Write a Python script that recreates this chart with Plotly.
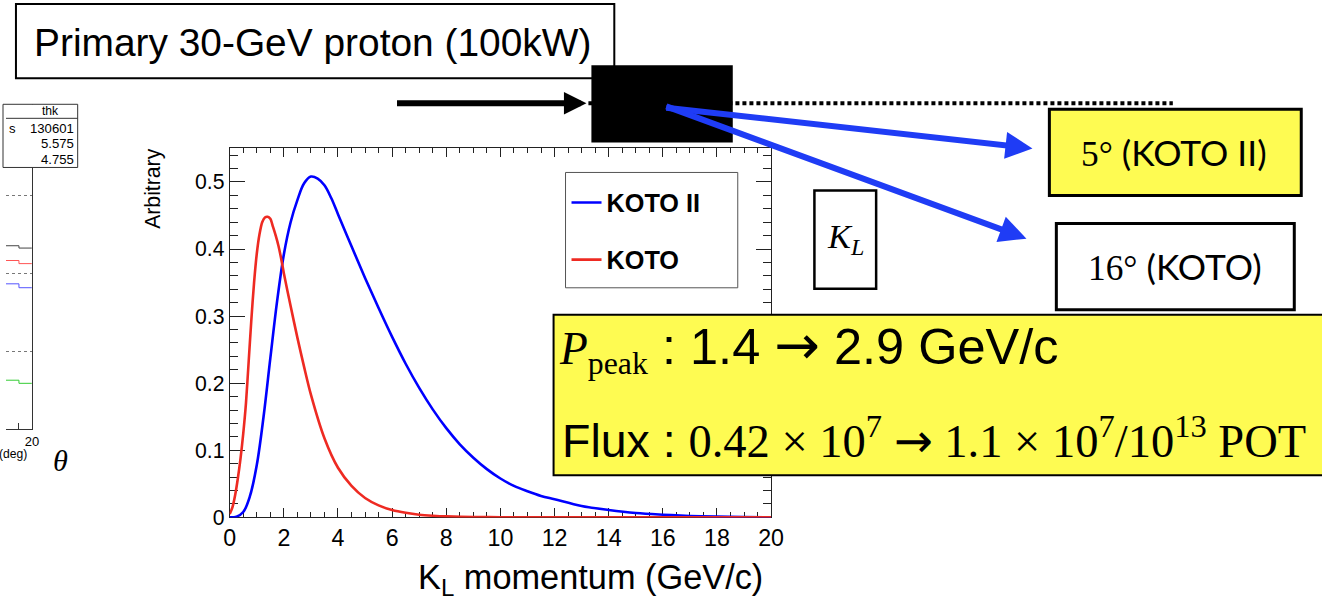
import plotly.graph_objects as go

W, H = 1322, 600
# the captured picture comes out slightly shrunk; positions are pre-compensated
SX, SY = 0.99, 0.979


def X(p):
    return p / (W * SX)


def Y(p):
    return 1 - p / (H * SY)


# ---------------- data ----------------
# KOTO II (5 deg extraction) K_L momentum spectrum
koto2_p = [0, 0.25, 0.5, 0.75, 1.0, 1.25, 1.5, 1.75, 2.0, 2.25, 2.5, 2.75, 3.0, 3.25,
           3.5, 3.75, 4.0, 4.5, 5.0, 5.5, 6.0, 6.5, 7.0, 7.5, 8.0, 8.5, 9.0, 9.5, 10.0,
           10.5, 11.0, 11.5, 12.0, 13.0, 14.0, 15.0, 16.0, 17.0, 18.0, 19.0, 20.0]
koto2_v = [0.0, 0.001, 0.008, 0.032, 0.078, 0.15, 0.237, 0.322, 0.392, 0.44, 0.473,
           0.498, 0.508, 0.505, 0.495, 0.476, 0.452, 0.404, 0.357, 0.312, 0.269, 0.229,
           0.193, 0.161, 0.133, 0.109, 0.089, 0.072, 0.058, 0.047, 0.039, 0.032, 0.027,
           0.017, 0.011, 0.0065, 0.004, 0.0022, 0.0011, 0.0005, 0.0002]

# KOTO (16 deg extraction) K_L momentum spectrum
koto_p = [0, 0.1, 0.2, 0.3, 0.4, 0.5, 0.6, 0.7, 0.8, 0.9, 1.0, 1.1, 1.2, 1.3, 1.4, 1.5,
          1.6, 1.7, 1.8, 1.9, 2.0, 2.25, 2.5, 2.75, 3.0, 3.5, 4.0, 4.5, 5.0, 5.5, 6.0,
          6.5, 7.0, 7.5, 8.0, 9.0, 10.0, 12.0, 20.0]
koto_v = [0.005, 0.015, 0.033, 0.058, 0.088, 0.125, 0.17, 0.232, 0.295, 0.35, 0.393,
          0.422, 0.44, 0.447, 0.448, 0.445, 0.433, 0.42, 0.405, 0.386, 0.364, 0.315,
          0.268, 0.224, 0.183, 0.118, 0.074, 0.047, 0.029, 0.018, 0.011, 0.0068, 0.004,
          0.0025, 0.0015, 0.0006, 0.0003, 0.0001, 0.0]

x_tick_vals = [0, 2, 4, 6, 8, 10, 12, 14, 16, 18, 20]
x_tick_text = ["0", "2", "4", "6", "8", "10", "12", "14", "16", "18", "20"]
y_tick_vals = [0, 0.1, 0.2, 0.3, 0.4, 0.5]
y_tick_text = ["0", "0.1", "0.2", "0.3", "0.4", "0.5"]

# partially visible histogram on the left (theta, deg)
theta_edges = [19.0, 19.5, 20.0]
left_black = [2.36, 2.33, 2.33]
left_red = [2.17, 2.13, 2.13]
left_blue = [1.87, 1.82, 1.82]
left_green = [0.63, 0.59, 0.59]
stat_rows = [("s", "130601"), ("", "5.575"), ("", "4.755")]

SANS = "Liberation Sans"
SERIF = "Liberation Serif"
ARROWFONT = "DejaVu Sans"
BLUE = "#0000ff"
RED = "#ee2a22"
YELLOW = "#fefb52"
ARROW_BLUE = "#1f3cf5"
FS = 1.01  # font scale

fig = go.Figure()

fig.add_trace(go.Scatter(x=koto2_p, y=koto2_v, mode="lines", name="KOTO II",
                         line=dict(color=BLUE, width=2.6, shape="spline", smoothing=1.0),
                         legend="legend", cliponaxis=False, hoverinfo="skip"))
fig.add_trace(go.Scatter(x=koto_p, y=koto_v, mode="lines", name="KOTO",
                         line=dict(color=RED, width=2.6, shape="spline", smoothing=0.8),
                         legend="legend2", cliponaxis=False, hoverinfo="skip"))

for vals, col in [(left_black, "#444444"), (left_red, "#ff5555"),
                  (left_blue, "#5555ff"), (left_green, "#33cc33")]:
    fig.add_trace(go.Scatter(x=theta_edges, y=vals, mode="lines", xaxis="x2", yaxis="y2",
                             line=dict(color=col, width=1, shape="hv"),
                             showlegend=False, hoverinfo="skip"))

minor_x = [i * 0.5 for i in range(41)]
minor_y = [i * 0.02 for i in range(28)]

axis_common = dict(showgrid=False, zeroline=False, showline=True, linecolor="#222222",
                   linewidth=1, mirror="allticks", ticks="inside", tickcolor="#222222",
                   tickwidth=1, layer="below traces")

fig.update_layout(
    width=W, height=H, margin=dict(l=0, r=0, t=0, b=0),
    paper_bgcolor="white", plot_bgcolor="white",
    xaxis=dict(domain=[X(224.7), X(768.5)], range=[0, 20], tickmode="array",
               tickvals=x_tick_vals, ticktext=x_tick_text, ticklen=9,
               tickfont=dict(family=SANS, size=23 * FS, color="black"),
               minor=dict(tickmode="array", tickvals=minor_x, ticks="inside", ticklen=5,
                          tickcolor="#222222", tickwidth=1),
               **axis_common),
    yaxis=dict(domain=[Y(516), Y(148)], range=[0, 0.55], tickmode="array",
               tickvals=y_tick_vals, ticktext=y_tick_text, ticklen=15,
               tickfont=dict(family=SANS, size=21 * FS, color="black"),
               minor=dict(tickmode="array", tickvals=minor_y, ticks="inside", ticklen=8,
                          tickcolor="#222222", tickwidth=1),
               **axis_common),
    xaxis2=dict(domain=[0, X(26)], range=[19, 20], anchor="y2", tickmode="array",
                tickvals=[19, 19.5, 20], ticktext=["", "", "20"], ticks="inside", ticklen=6,
                tickcolor="#333333", showline=True, linecolor="#333333", showgrid=False,
                zeroline=False, tickfont=dict(family=SANS, size=13, color="black")),
    yaxis2=dict(domain=[Y(428), Y(104)], range=[0, 4.18], anchor="x2", side="right",
                showline=True, linecolor="#333333", ticks="", showticklabels=False,
                showgrid=True, griddash="dot", gridcolor="#777777", gridwidth=1,
                tickmode="array", tickvals=[1, 2, 3], zeroline=False),
    legend=dict(x=X(563), y=Y(202), xanchor="left", yanchor="middle",
                bgcolor="rgba(0,0,0,0)", borderwidth=0,
                font=dict(family=SANS, size=25 * FS, color="black", weight="bold")),
    legend2=dict(x=X(563), y=Y(259), xanchor="left", yanchor="middle",
                 bgcolor="rgba(0,0,0,0)", borderwidth=0,
                 font=dict(family=SANS, size=25 * FS, color="black", weight="bold")),
)

shapes = []
# legend frame
shapes.append(dict(type="rect", x0=X(562), x1=X(735), y0=Y(172), y1=Y(287),
                   line=dict(color="#555555", width=1), fillcolor="white", layer="below"))
# primary proton box
shapes.append(dict(type="rect", x0=X(10), x1=X(611), y0=Y(4), y1=Y(78),
                   line=dict(color="black", width=2), fillcolor="white"))
# dotted beam line
shapes.append(dict(type="line", x0=X(585), x1=X(1172), y0=Y(103), y1=Y(103),
                   line=dict(color="black", width=4, dash="4px,3px")))
# target block
shapes.append(dict(type="rect", x0=X(588), x1=X(730), y0=Y(65), y1=Y(142),
                   line=dict(width=0), fillcolor="black"))
# 5 deg box
shapes.append(dict(type="rect", x0=X(1048), x1=X(1301), y0=Y(109), y1=Y(195),
                   line=dict(color="black", width=3), fillcolor=YELLOW))
# 16 deg box
shapes.append(dict(type="rect", x0=X(1055), x1=X(1294), y0=Y(223), y1=Y(309),
                   line=dict(color="black", width=3), fillcolor="white"))
# K_L box
shapes.append(dict(type="rect", x0=X(812), x1=X(874), y0=Y(190), y1=Y(288),
                   line=dict(color="black", width=2.5), fillcolor="white"))
# summary box
shapes.append(dict(type="rect", x0=X(550), x1=X(1345), y0=Y(314), y1=Y(474),
                   line=dict(color="black", width=2), fillcolor=YELLOW))
# stat box of the left histogram
shapes.append(dict(type="rect", x0=X(-3), x1=X(72), y0=Y(104), y1=Y(167),
                   line=dict(color="#333333", width=1), fillcolor="white"))
shapes.append(dict(type="line", x0=X(0), x1=X(72), y0=Y(118), y1=Y(118),
                   line=dict(color="#333333", width=1)))
for s in shapes:
    s.setdefault("xref", "paper")
    s.setdefault("yref", "paper")
    s.setdefault("layer", "above")
fig.update_layout(shapes=shapes)

ann = []


def text(x, y, t, size, family=SANS, xanchor="center", yanchor="middle", **kw):
    ann.append(dict(x=X(x), y=Y(y), xref="paper", yref="paper", text=t, showarrow=False,
                    xanchor=xanchor, yanchor=yanchor,
                    font=dict(family=family, size=size * FS, color="black"), **kw))


def arrow(x_tip, y_tip, x_tail, y_tail, color, width, size):
    ann.append(dict(x=X(x_tip), y=Y(y_tip), xref="paper", yref="paper", text="",
                    showarrow=True, axref="pixel", ayref="pixel",
                    ax=(x_tail - x_tip) / SX, ay=(y_tail - y_tip) / SY, arrowhead=2,
                    arrowwidth=width, arrowsize=size, arrowcolor=color, standoff=0))


text(308, 42, "Primary 30-GeV proton (100kW)", 38.5)
arrow(583, 103, 394, 103, "black", 6, 0.75)
arrow(1031, 148, 667, 108, ARROW_BLUE, 6, 0.9)
arrow(1025, 238, 667, 108, ARROW_BLUE, 6, 0.9)

text(1173, 152, f'<span style="font-family:{SERIF}">5°</span> (KOTO II)', 35, family="Lato")
text(1174, 266, f'<span style="font-family:{SERIF}">16°</span> (KOTO)', 35, family="Lato")
text(843, 238, "<i>K<sub>L</sub></i>", 34, family=SERIF)

line1 = (f'<span style="font-family:{SERIF};font-size:{45 * FS:.1f}px"><i>P</i><sub>peak</sub></span>'
         f' : 1.4 <span style="font-family:{ARROWFONT};font-size:{54 * FS:.1f}px">→</span> 2.9 GeV/c')
text(553, 346, line1, 50, xanchor="left")
line2 = (f'Flux : <span style="font-family:{SERIF};font-size:{46 * FS:.1f}px">0.42 × 10<sup>7</sup>'
         f' <span style="font-family:{ARROWFONT};font-size:{46 * FS:.1f}px">→</span>'
         f' 1.1 × 10<sup>7</sup>/10<sup>13</sup> POT</span>')
text(556, 437, line2, 46, xanchor="left")

text(147, 188, "Arbitrary", 21, textangle=-90)
text(762, 578, "K<sub>L</sub> momentum (GeV/c)", 34, xanchor="right")

# left histogram texts
text(45, 111, "thk", 12)
for i, (lab, val) in enumerate(stat_rows):
    yy = 128 + i * 15.5
    if lab:
        text(1, yy, lab, 13, xanchor="left")
    text(70, yy, val, 13, xanchor="right")
text(23, 453, "(deg)", 12, xanchor="right")
text(55, 460, "<i>θ</i>", 30, family=SERIF)

fig.update_layout(annotations=ann)

fig.write_html("out.html", config={"displayModeBar": False},
               post_script="document.body.style.margin='0px';"
                           "document.body.style.overflow='hidden';")
